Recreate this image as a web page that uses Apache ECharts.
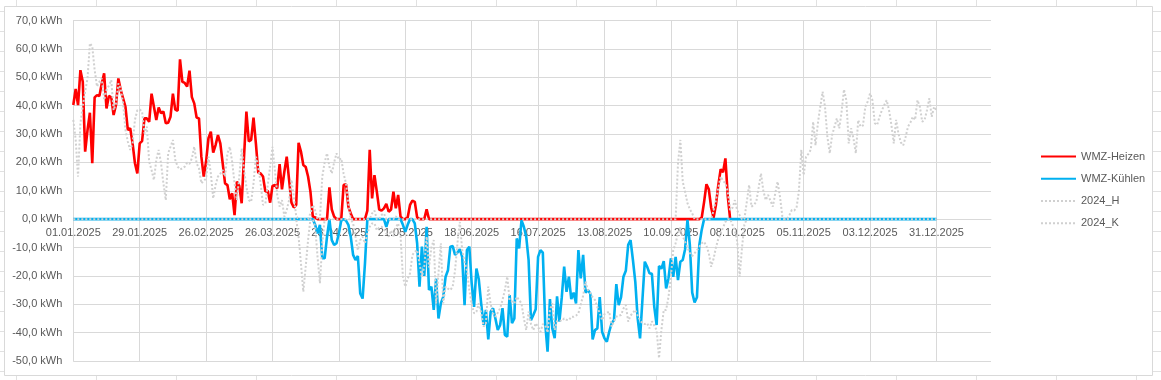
<!DOCTYPE html>
<html>
<head>
<meta charset="utf-8">
<script src="https://cdn.jsdelivr.net/npm/echarts@6/dist/echarts.min.js"></script>
<style>
html,body{margin:0;padding:0;background:#fff;}
#c{width:1161px;height:380px;}
</style>
</head>
<body>
<div id="c"></div>
<script>
// ---- data (daily values, day 0 = 01.01.2025) ----
const seriesNames = ['WMZ-Heizen', 'WMZ-Kühlen', '2024_H', '2024_K'];
const startDate = [2025, 1, 1];
const dayCount = 388;      // axis extends a little past 31.12.2025
const labelEvery = 28;     // tick labels every 28 days
const lastLabelDay = 364;

const heat2025 = [
40.2,45.9,40.2,52.5,48.4,23.8,31.4,37.5,19.7,42.9,
43.7,43.4,47.8,51.4,39.0,43.4,42.9,36.7,40.2,49.6,
45.5,42.6,39.6,31.4,32.0,26.7,19.7,16.1,26.7,27.5,
35.5,35.5,34.3,44.2,39.6,34.9,39.3,37.3,37.9,33.8,
34.0,36.1,44.2,38.6,38.2,56.3,48.4,48.0,46.7,52.3,
43.0,40.8,35.8,35.5,22.0,15.0,20.3,28.5,30.8,23.4,
26.1,29.6,26.7,19.7,12.6,12.0,7.0,9.1,1.4,13.2,
11.7,5.6,22.0,37.9,27.4,27.9,35.8,26.7,16.4,16.1,
15.0,9.7,10.0,5.8,11.7,12.0,10.8,19.4,10.5,16.7,
22.0,13.8,5.8,4.1,5.0,26.9,23.8,19.1,18.4,15.0,
9.7,0.9,0.6,0,0,0,0,0,11.2,3.4,
0.9,0,0,0,12.0,12.3,4.4,2.0,0,0,
0,0,0,0,3.0,24.4,7.3,15.5,9.7,3.4,
3.0,3.8,5.4,2.6,3.4,9.7,3.8,8.5,0.9,0,
0,0.6,5.0,6.5,6.1,0.6,0,0,0,3.5,
0,0,0,0,0,0,0,0,0,0,
0,0,0,0,0,0,0,0,0,0,
0,0,0,0,0,0,0,0,0,0,
0,0,0,0,0,0,0,0,0,0,
0,0,0,0,0,0,0,0,0,0,
0,0,0,0,0,0,0,0,0,0,
0,0,0,0,0,0,0,0,0,0,
0,0,0,0,0,0,0,0,0,0,
0,0,0,0,0,0,0,0,0,0,
0,0,0,0,0,0,0,0,0,0,
0,0,0,0,0,0,0,0,0,0,
0,0,0,0,0,0.5,6,12.3,10.5,4,
0.5,5,12,17.6,16.5,21.4,8,0
];

const cool2025 = [
0,0,0,0,0,0,0,0,0,0, 0,0,0,0,0,0,0,0,0,0,
0,0,0,0,0,0,0,0,0,0, 0,0,0,0,0,0,0,0,0,0,
0,0,0,0,0,0,0,0,0,0, 0,0,0,0,0,0,0,0,0,0,
0,0,0,0,0,0,0,0,0,0, 0,0,0,0,0,0,0,0,0,0,
0,0,0,0,0,0,0,0,0,0, 0,0,0,0,0,0,0,0,0,0,
0,0,-2,-5,-2,-13.8,-13.8,-6.2,0,-7.4,
-9.1,-8.5,-5,-0.5,0,-0.5,-2,-6.2,-12.6,-14.4,
-13,-26.2,-28,-15.6,0,0,0,0,0,0,
0,0,-2.7,0,0,0,0,0,0,-2,
-4.5,-2,0,0,-1.5,-8.5,-23.8,-9.7,-20,-2.7,
-25,-23.8,-32,-21,-35,-29.7,-27.4,-20.3,-18,-9.7,
-9.5,-12.6,-11.8,-10.6,-13.3,-30.3,-10.9,-9.7,-22.6,-30.9,
-17.4,-21.2,-29.7,-37.3,-32,-42.4,-32.6,-31.4,-35,-39.1,
-37.3,-31.4,-40.8,-41.4,-26.8,-36.7,-35,-6.8,-10.3,-0.4,
-2.7,-6.2,-14.4,-35.6,-33.8,-31.8,-13.3,-10.9,-11.8,-36.7,
-46.7,-28.2,-38.5,-42,-27.2,-36.1,-27.5,-16.7,-25.6,-20.3,
-28.2,-25.9,-29.7,-10.9,-20.9,-12.6,-25.9,-25,-26.2,-42.4,
-39.1,-38.5,-27.5,-39.7,-42,-43.2,-39.7,-36.7,-35.6,-22.9,
-30.3,-27.5,-20.3,-18.2,-9.1,-7.4,-14.4,-22.1,-35,-42,
-28.5,-15,-16.8,-19.1,-19.3,-30.9,-37.3,-16.5,-17.5,-14.8,
-24.4,-20.9,-13.8,-20.3,-13.3,-21.5,-15,-14.4,-10.6,-0.3,
-9.1,-25.9,-29.4,-27.5,-9.1,-3.8,0,0,0,0,
0,0,0,0,0,0,0,0,0,0, 0,0,0,0,0,0,0,0,0,0,
0,0,0,0,0,0,0,0,0,0, 0,0,0,0,0,0,0,0,0,0,
0,0,0,0,0,0,0,0,0,0, 0,0,0,0,0,0,0,0,0,0,
0,0,0,0,0,0,0,0,0,0, 0,0,0,0,0,0,0,0,0,0,
0,0,0,0,0,0,0,0,0,0, 0,0,0,0,0
];

const heat2024 = [
35,28,15,33.8,40,45,49.6,62,60.8,52.6,
46.7,48.4,49.6,42,45.5,47,49,38.4,40.8,47.8,
46,40.8,31.4,27.3,24.4,26.7,35,38.4,38.6,38,
30.2,32.6,20.2,17.3,13.8,20.9,24.4,19.7,12.6,6.7,
23.2,25.5,27.9,20.9,18.5,17.5,17.9,18.5,19.9,19.5,
21.4,25.5,19.7,17.9,12.6,13.5,14.3,22,16.1,7.3,
12,15,16,17.3,15,23.2,25.5,20.2,12.6,6.7,
15,24.9,17.3,11.4,6.7,6.1,12.6,22,18.4,12.6,
5,5.5,12,18.5,25.5,17.3,8.5,4.4,6.7,0.9,
3.2,6.7,13.8,7.9,1,0,0,0,0,0,
2,5,3,0,0,15,20,23.2,18.5,16.1,
20,23.2,20.9,21.4,16,12.6,5.6,0,0,0,
0,0,0,0,0,0,2,3,0,0,
1.5,2,0,0,0,0,1,0,0,0,
0,0,0,0,0,0,0,0,0,0, 0,0,0,0,0,0,0,0,0,0,
0,0,0,0,0,0,0,0,0,0, 0,0,0,0,0,0,0,0,0,0,
0,0,0,0,0,0,0,0,0,0, 0,0,0,0,0,0,0,0,0,0,
0,0,0,0,0,0,0,0,0,0, 0,0,0,0,0,0,0,0,0,0,
0,0,0,0,0,0,0,0,0,0, 0,0,0,0,0,0,0,0,0,0,
0,0,0,0,0,0,0,0,0,0, 0,0,0,0,0,
19.7,27.9,13.2,9.6,5.6,3.5,2,0,0,0,
0,0,0,0,0,
3,6.7,11,15,13.5,12.6,9.6,3.2,4,6.7,
3,1.4,0,0,6,12,4.4,5,6.1,11,
16.1,10,6.7,8.5,6.5,4.4,9,13.2,8,1,
0,0,1.5,3.2,3,4,10,24.4,15.5,22,
23,24.4,34.3,26,33.8,39.6,44.9,39.6,29,23.2,
29.6,32.6,35.5,32,37.9,45.7,41.9,26.7,32,28.4,
23.2,34.9,32.6,33,39.6,41.4,44.3,41.9,33.8,33.2,
36.1,38.4,40.2,41.9,38.4,33.2,26.7,35,30,27,
26,29,32.6,34,36.1,35,41.9,39.6,34.3,35,
38.4,42.6,36.1,39.6,38.4
];

const cool2024 = [
0,0,0,0,0,0,0,0,0,0, 0,0,0,0,0,0,0,0,0,0,
0,0,0,0,0,0,0,0,0,0, 0,0,0,0,0,0,0,0,0,0,
0,0,0,0,0,0,0,0,0,0, 0,0,0,0,0,0,0,0,0,0,
0,0,0,0,0,0,0,0,0,0, 0,0,0,0,0,0,0,0,0,0,
0,0,0,0,0,0,0,0,0,0, 0,0,0,0,0,
-6.2,-15.6,-25.6,-16.8,-7.4,
0,0,-2.7,-13.3,-22.6,-8.5,0,0,0,0,
0,0,0,0,0,0,0,0,-1.5,-6.2,
-10.9,-7.4,-6.2,-8.5,-5,-2.7,-1.5,-1.5,-3.9,-3,
-2.7,-3.5,-5,-6.2,-4,-6,-3,-1.5,-6,-20.3,
-23.8,-21,-19.1,-12.6,-11.5,-10.9,-15.6,-20.3,-16.8,-6.2,
-17,-10,-7.4,-29.7,-19,-8.5,-29.7,-23.8,-24.5,-25,
-23.8,-18,-8.5,-1,-10.9,-15,-18,-25,-30,-33.2,
-32.6,-29.7,-33,-37.9,-36.7,-23.8,-30,-33.2,-34.4,-33,
-31.4,-28.5,-25,-20.3,-28.5,-29,-29.7,-27.4,-28.5,-29.7,
-35,-39.1,-32.6,-37,-39.1,-36.7,-38,-39.7,-37,-37.3,
-40,-32,-29.7,-39.1,-36,-35.6,-36,-35,-35.5,-35.6,
-34.4,-34.4,-34,-33.2,-30,-27,-22,-25,-26,-27.5,
-28.5,-31,-33.2,-35.6,-33.5,-33,-32.6,-37.9,-36,-34.4,
-34,-33.8,-31.5,-30.3,-36.1,-34,-33,-32,-34,-35.6,
-36.7,-37,-36.7,-38.5,-36,-37.5,-39.1,-49,-39.1,-32,
-32,-27.4,-20.3,-10.9,-8.5,-5,-3,-6,-8,-10,
-12,-13,-12,-11,-9.7,-8.5,-8,-9.5,-12,-16.8,
-14,-10,-7,-5,-3,-1,0,0,-2,-4,
-8,-20.3,-10,-2,0,
0,0,0,0,0,0,0,0,0,0, 0,0,0,0,0,0,0,0,0,0,
0,0,0,0,0,0,0,0,0,0, 0,0,0,0,0,0,0,0,0,0,
0,0,0,0,0,0,0,0,0,0, 0,0,0,0,0,0,0,0,0,0,
0,0,0,0,0,0,0,0,0,0, 0,0,0,0,0,0,0,0,0,0
];

const yMin = -50, yMax = 70, yStep = 10;

// ---- layout ----
const W = 1161, H = 380;
const G = {left: 73.3, right: 170, top: 20.5, bottom: 19};
const plotH = H - G.top - G.bottom;
const zeroOffset = -(0 - yMin) / (yMax - yMin) * plotH; // move x axis from bottom up to the 0 line

// ---- categories (dates) ----
function pad(n){return (n<10?'0':'')+n;}
const categories = [];
for (let i = 0; i < dayCount; i++) {
  const d = new Date(Date.UTC(startDate[0], startDate[1]-1, startDate[2]) + i*86400000);
  categories.push(pad(d.getUTCDate()) + '.' + pad(d.getUTCMonth()+1) + '.' + d.getUTCFullYear());
}
const showTick = (idx) => idx % labelEvery === 0 && idx <= lastLabelDay;

const FONT = "'Liberation Sans', Arial, sans-serif";
const TXT = '#595959';
const GRID = '#D9D9D9';
const CELL = '#E1E1E1';

// spreadsheet cell lines around the chart object, and the chart border
const graphics = [];
for (let x = 16; x < W; x += 80) {
  graphics.push({type: 'line', z: -20, silent: true, shape: {x1: x + 0.5, y1: 0, x2: x + 0.5, y2: H}, style: {stroke: CELL, lineWidth: 1}});
}
for (let y = 11; y < H; y += 20) {
  graphics.push({type: 'line', z: -20, silent: true, shape: {x1: 0, y1: y + 0.5, x2: W, y2: y + 0.5}, style: {stroke: CELL, lineWidth: 1}});
}
graphics.push({type: 'rect', z: -10, silent: true, shape: {x: 4.5, y: 6.5, width: 1148, height: 369}, style: {fill: '#ffffff', stroke: GRID, lineWidth: 1}});

const chart = echarts.init(document.getElementById('c'), null, {renderer: 'canvas'});
const dotted = {width: 2, color: '#D0D0D0', type: [2, 2]};
chart.setOption({
  animation: false,
  backgroundColor: '#ffffff',
  grid: {left: G.left, right: G.right, top: G.top, bottom: G.bottom, containLabel: false, outerBoundsMode: 'none'},
  legend: {
    orient: 'vertical', left: 1035, top: 146,
    itemWidth: 35, itemHeight: 14, itemGap: 11,
    itemStyle: {opacity: 0},
    textStyle: {color: TXT, fontSize: 11, fontFamily: FONT},
    data: seriesNames
  },
  xAxis: {
    type: 'category', data: categories, boundaryGap: false,
    position: 'bottom', offset: zeroOffset,
    axisLine: {show: true, onZero: false, lineStyle: {color: GRID, width: 1}},
    axisTick: {show: false},
    axisLabel: {interval: (i) => showTick(i), color: TXT, fontSize: 11, fontFamily: FONT, margin: 8},
    splitLine: {show: true, interval: (i) => showTick(i), lineStyle: {color: GRID, width: 1}}
  },
  yAxis: {
    type: 'value', min: yMin, max: yMax, interval: yStep,
    axisLine: {show: true, lineStyle: {color: GRID}},
    axisTick: {show: false},
    axisLabel: {color: TXT, fontSize: 11, fontFamily: FONT, margin: 11,
      formatter: (v) => v.toFixed(1).replace('.', ',') + ' kWh'},
    splitLine: {show: true, lineStyle: {color: GRID, width: 1}}
  },
  series: [
    {name: seriesNames[0], type: 'line', data: heat2025, symbol: 'none', lineStyle: {color: '#FF0000', width: 2.6}, itemStyle: {color: '#FF0000'}},
    {name: seriesNames[1], type: 'line', data: cool2025, symbol: 'none', lineStyle: {color: '#00B0F0', width: 2.6}, itemStyle: {color: '#00B0F0'}},
    {name: seriesNames[2], type: 'line', data: heat2024, symbol: 'none', lineStyle: dotted, itemStyle: {color: '#D0D0D0'}},
    {name: seriesNames[3], type: 'line', data: cool2024, symbol: 'none', lineStyle: dotted, itemStyle: {color: '#D0D0D0'}}
  ],
  graphic: graphics
});
</script>
</body>
</html>
